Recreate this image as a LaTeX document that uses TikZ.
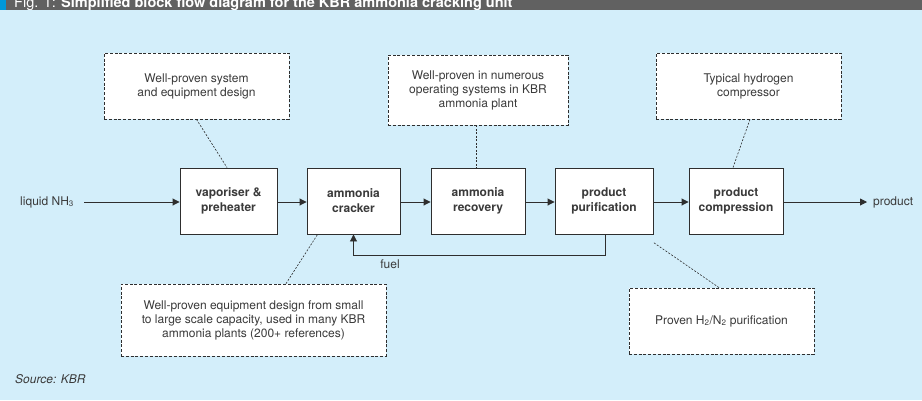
\documentclass[tikz,border=0pt]{standalone}
\usepackage{fontspec}
\setmainfont{TeX Gyre Heros}
\usetikzlibrary{arrows.meta}
\definecolor{bgblue}{HTML}{D3EEFA}
\definecolor{bargray}{HTML}{616161}
\definecolor{stripblue}{HTML}{0098D8}
\definecolor{txt}{HTML}{3A3A3A}
\definecolor{ln}{HTML}{2E2E2E}
\tikzset{
  unitbox/.style={draw=ln, line width=0.9pt, fill=white, minimum height=66pt, align=center,
    font=\fontsize{12}{15}\selectfont\bfseries, text=txt, inner sep=2pt},
  notebox/.style={draw=ln, line width=0.8pt, dash pattern=on 3pt off 1.8pt, fill=white, align=center,
    font=\fontsize{12}{14}\selectfont, text=txt, inner sep=2pt},
  noteline/.style={draw=ln, line width=0.6pt, dash pattern=on 2pt off 1.5pt},
  flow/.style={draw=ln, line width=0.9pt, -{Triangle[length=7pt,width=7pt]}},
  plainlabel/.style={font=\fontsize{12}{14}\selectfont, text=txt, inner sep=0pt},
}
\begin{document}
\begin{tikzpicture}[x=1pt,y=-1pt]
\useasboundingbox (0,0) rectangle (922,400);
\fill[bgblue] (0,0) rectangle (922,400);
\fill[bargray] (0,0) rectangle (922,9.5);
\fill[stripblue] (0,0) rectangle (6,9.5);
\begin{scope}
\clip (0,0) rectangle (922,9.5);
\node[anchor=base west, inner sep=0pt, text=white, font=\fontsize{14.5}{16}\selectfont] (title) at (14,7) {Fig. 1: \textbf{Simplified block flow diagram for the KBR ammonia cracking unit}};
\end{scope}

\node[unitbox, minimum width=97pt] (vap) at (228.5,201) {vaporiser \&\\preheater};
\node[unitbox, minimum width=93pt] (crk) at (353.5,201) {ammonia\\cracker};
\node[unitbox, minimum width=94pt] (rec) at (478,201) {ammonia\\recovery};
\node[unitbox, minimum width=98pt] (pur) at (604,201) {product\\purification};
\node[unitbox, minimum width=94pt] (cmp) at (736,201) {product\\compression};

\node[notebox, minimum width=185pt, minimum height=66pt] (n1) at (196.5,86) {Well-proven system\\and equipment design};
\node[notebox, minimum width=180pt, minimum height=70pt] (n2) at (478,90) {Well-proven in numerous\\operating systems in KBR\\ammonia plant};
\node[notebox, minimum width=185pt, minimum height=66pt] (n3) at (748.5,86) {Typical hydrogen\\compressor};
\node[notebox, minimum width=265pt, minimum height=72pt] (n4) at (253.5,320) {Well-proven equipment design from small\\to large scale capacity, used in many KBR\\ammonia plants (200+ references)};
\node[notebox, minimum width=185pt, minimum height=66pt] (n5) at (721.5,321) {Proven H\textsubscript{2}/N\textsubscript{2} purification};

\node[plainlabel, anchor=west] (in) at (20,202) {liquid NH\textsubscript{3}};
\node[plainlabel, anchor=west] (out) at (873,202) {product};
\node[plainlabel] (fuel) at (390,264) {fuel};

\draw[flow] ([xshift=10pt]in.east) -- (vap.west |- in.east);
\draw[flow] (vap.east |- in.east) -- (crk.west |- in.east);
\draw[flow] (crk.east |- in.east) -- (rec.west |- in.east);
\draw[flow] (rec.east |- in.east) -- (pur.west |- in.east);
\draw[flow] (pur.east |- in.east) -- (cmp.west |- in.east);
\draw[flow, shorten >=6pt] (cmp.east |- in.east) -- (out.west);
\draw[flow] ([xshift=1pt]pur.south) -- ++(0,21) -| (crk.south);

\draw[noteline] (n1.south) -- ([xshift=-1.5pt]vap.north);
\draw[noteline] ([xshift=-2pt]n2.south) -- ([xshift=-2pt]rec.north);
\draw[noteline] ([xshift=1.5pt]n3.south) -- ([xshift=-3pt]cmp.north);
\draw[noteline] ([xshift=32.5pt]n4.north) -- ([xshift=11pt]crk.south west);
\draw[noteline] ([xshift=-2.5pt]n5.north) -- ([yshift=-8pt]pur.south east);

\node[anchor=base west, inner sep=0pt, text=txt, font=\fontsize{12}{14}\selectfont\itshape] (src) at (15,383) {Source: KBR};
\end{tikzpicture}
\end{document}
